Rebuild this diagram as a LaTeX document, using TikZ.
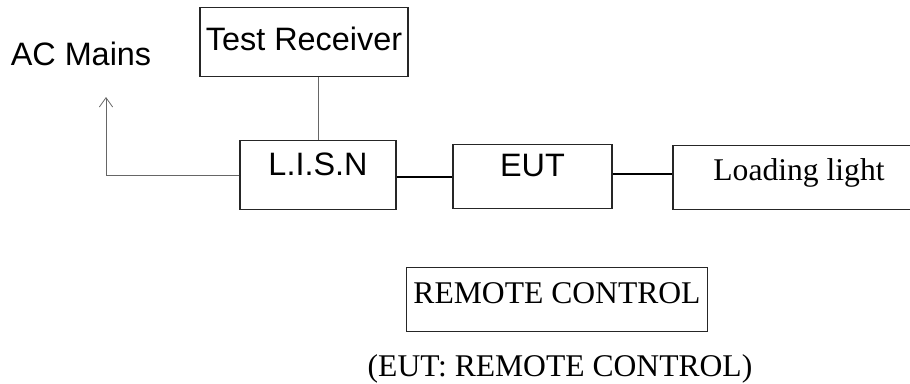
\documentclass[tikz,border=0pt]{standalone}
\usepackage{fontspec}
\setmainfont{Liberation Serif}
\newfontfamily\arialfont{Liberation Sans}
\usetikzlibrary{arrows.meta}
\begin{document}
\begin{tikzpicture}[x=0.75pt,y=-0.75pt,
  boxshape/.style={draw=black!85,line width=0.8pt,rectangle,inner xsep=0pt,inner ysep=0pt,anchor=north},
  sanslbl/.style={font=\arialfont\fontsize{24.3pt}{27pt}\selectfont},
  seriflbl/.style={font=\fontsize{23.7pt}{27pt}\selectfont},
  thinwire/.style={draw=black!60,line width=0.6pt},
  thickwire/.style={draw=black,line width=1.5pt}]
\useasboundingbox (0,0) rectangle (910,383);
\clip (0,0) rectangle (910,383);
\node[boxshape,sanslbl,minimum width=156pt,text height=32.25pt,text depth=19.5pt] (tr) at (304,7) {Test Receiver};
\node[boxshape,sanslbl,minimum width=117pt,text height=26.25pt,text depth=25.5pt] (lisn) at (318,140) {L.I.S.N};
\node[boxshape,sanslbl,minimum width=119.25pt,text height=24pt,text depth=24pt] (eut) at (532.5,144) {EUT};
\node[boxshape,seriflbl,minimum width=189pt,text height=26.25pt,text depth=21.75pt] (load) at (799,145) {Loading light};
\node[boxshape,seriflbl,minimum width=225.75pt,text height=27pt,text depth=21pt] (rc) at (557,267) {REMOTE CONTROL};
\node[sanslbl,anchor=base,inner sep=0pt] (ac) at (81,65) {AC Mains};
\node[seriflbl,anchor=base,inner sep=0pt] (cap) at (560,376) {(EUT: REMOTE CONTROL)};
\coordinate (acend) at (106,97);
\draw[thinwire] (lisn.north) -- (lisn.north |- tr.south);
\draw[thinwire,-{Straight Barb[length=7pt,width=10pt,line width=0.6pt]}] (lisn.west) -| (acend);
\draw[thickwire] (eut.west -| lisn.east) -- (eut.west);
\draw[thickwire] ([yshift=2.25pt]eut.east) -- ([yshift=2.25pt]eut.east -| load.west);
\end{tikzpicture}
\end{document}
